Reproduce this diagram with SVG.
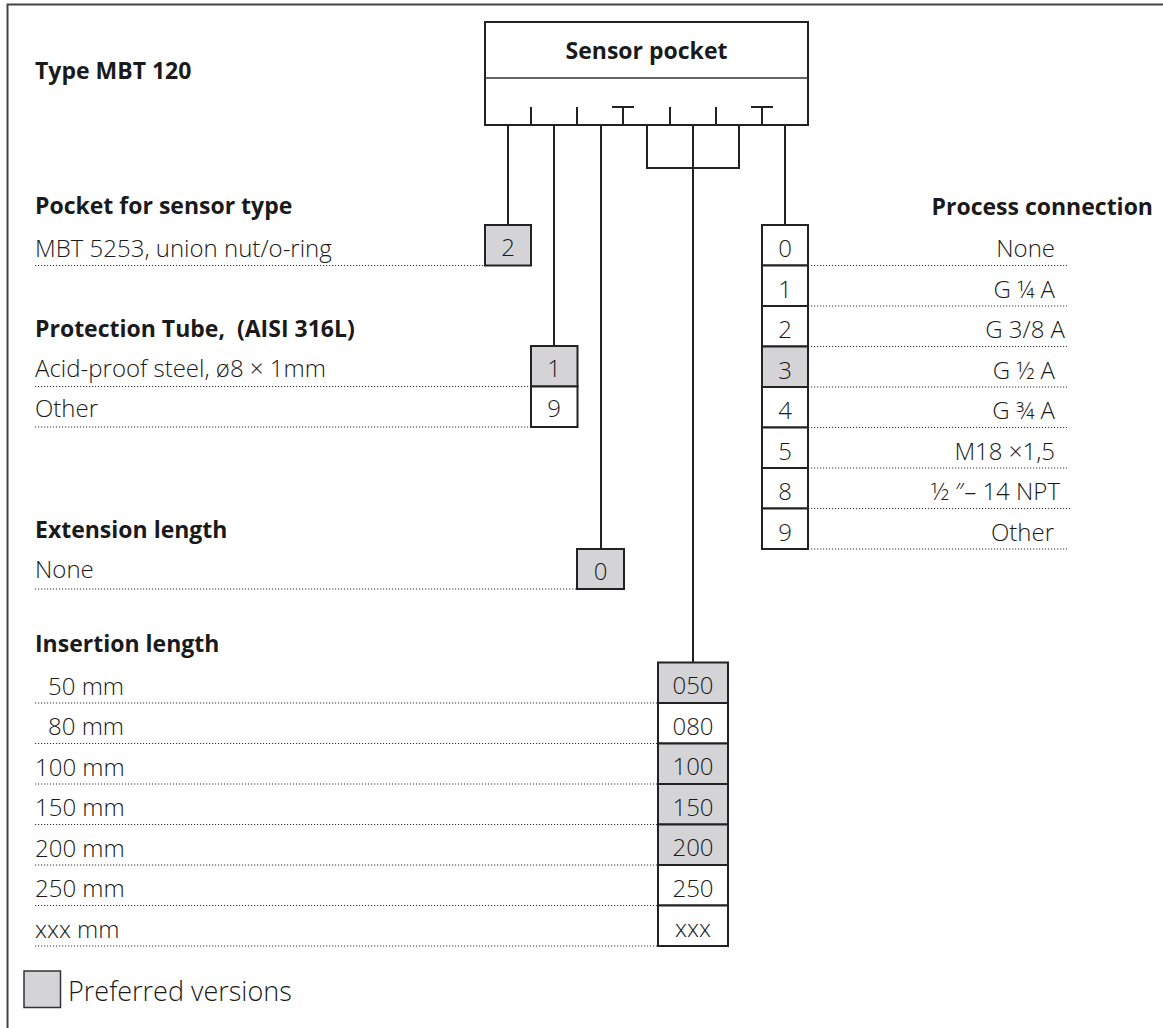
<svg xmlns="http://www.w3.org/2000/svg" width="1163" height="1028" viewBox="0 0 1163 1028">
<style>
text{font-family:"Open Sans","Noto Sans","Liberation Sans",sans-serif;fill:#1a1a1a}
.b{font-weight:700;font-size:23px}
.n{font-weight:300;font-size:24px}
.c{text-anchor:middle}
.r{text-anchor:end}
.box{fill:#fff;stroke:#222;stroke-width:2}
.pref{fill:#d4d4d6;stroke:#222;stroke-width:2}
.sep{stroke:#333;stroke-width:1.5}
.dot{stroke:#333;stroke-width:1;stroke-dasharray:1.2 1.8;fill:none}
.ln{stroke:#222;stroke-width:2;fill:none}
</style>
<rect width="1163" height="1028" fill="#fff"/>
<path d="M7.5 1028V4.5H1163" fill="none" stroke="#444" stroke-width="2"/>

<g id="title"><text x="35" y="79" class="b">Type MBT 120</text></g>

<g id="sensor-pocket">
<rect x="485" y="22" width="323" height="103" class="box"/>
<line x1="485" y1="78" x2="808" y2="78" class="sep"/>
<text x="646.5" y="59" class="b c">Sensor pocket</text>
<path d="M531 107V125M577 107V125M623 107V125M612 107H634M670 107V125M716 107V125M762 107V125M751 107H773" class="ln"/>
</g>

<g id="connectors" class="ln">
<path d="M508 125V225"/>
<path d="M554 125V346"/>
<path d="M601 125V549"/>
<path d="M647 125V168H739V125"/>
<path d="M693 125V662.5"/>
<path d="M785 125V225"/>
</g>

<g id="pocket-sensor-type">
<text x="35" y="214" class="b">Pocket for sensor type</text>
<text x="35" y="257" class="n">MBT 5253, union nut/o-ring</text>
<line x1="35" y1="265.5" x2="485" y2="265.5" class="dot"/>
<rect x="485" y="225" width="46" height="40.5" class="pref"/>
<text x="508" y="256" class="n c">2</text>
</g>

<g id="protection-tube">
<text x="35" y="337" class="b" xml:space="preserve">Protection Tube,  (AISI 316L)</text>
<text x="35" y="377" class="n">Acid-proof steel, ø8 × 1mm</text>
<line x1="35" y1="386.5" x2="531" y2="386.5" class="dot"/>
<text x="35" y="417" class="n">Other</text>
<line x1="35" y1="427" x2="531" y2="427" class="dot"/>
<rect x="531" y="346" width="46.5" height="40.5" class="pref"/>
<rect x="531" y="386.5" width="46.5" height="40.5" class="box"/>
<text x="554" y="377" class="n c">1</text>
<text x="554" y="417" class="n c">9</text>
</g>

<g id="extension-length">
<text x="35" y="538" class="b">Extension length</text>
<text x="35" y="578" class="n">None</text>
<line x1="35" y1="589" x2="577" y2="589" class="dot"/>
<rect x="577" y="549" width="47" height="40" class="pref"/>
<text x="600.5" y="580" class="n c">0</text>
</g>

<g id="process-connection">
<text x="1153" y="215" class="b r">Process connection</text>
<rect x="762" y="225" width="46" height="40.5" class="box"/>
<rect x="762" y="265.5" width="46" height="40.5" class="box"/>
<rect x="762" y="306" width="46" height="40.5" class="box"/>
<rect x="762" y="346.5" width="46" height="40.5" class="pref"/>
<rect x="762" y="387" width="46" height="40.5" class="box"/>
<rect x="762" y="427.5" width="46" height="40.5" class="box"/>
<rect x="762" y="468" width="46" height="40.5" class="box"/>
<rect x="762" y="508.5" width="46" height="40.5" class="box"/>
<text x="785" y="257" class="n c">0</text>
<text x="785" y="297.5" class="n c">1</text>
<text x="785" y="338" class="n c">2</text>
<text x="785" y="378.5" class="n c">3</text>
<text x="785" y="419" class="n c">4</text>
<text x="785" y="459.5" class="n c">5</text>
<text x="785" y="500" class="n c">8</text>
<text x="785" y="540.5" class="n c">9</text>
<text x="1055" y="257" class="n r">None</text>
<text x="1055" y="297.5" class="n r">G ¼ A</text>
<text x="1065" y="338" class="n r">G 3/8 A</text>
<text x="1055" y="378.5" class="n r">G ½ A</text>
<text x="1055" y="419" class="n r">G ¾ A</text>
<text x="1055" y="459.5" class="n r">M18 ×1,5</text>
<text x="1060" y="500" class="n r">½ ″– 14 NPT</text>
<text x="1054" y="540.5" class="n r">Other</text>
<line x1="808" y1="265.5" x2="1067" y2="265.5" class="dot"/>
<line x1="808" y1="306" x2="1067" y2="306" class="dot"/>
<line x1="808" y1="346.5" x2="1067" y2="346.5" class="dot"/>
<line x1="808" y1="387" x2="1067" y2="387" class="dot"/>
<line x1="808" y1="427.5" x2="1067" y2="427.5" class="dot"/>
<line x1="808" y1="468" x2="1067" y2="468" class="dot"/>
<line x1="808" y1="508.5" x2="1072" y2="508.5" class="dot"/>
<line x1="808" y1="549" x2="1067" y2="549" class="dot"/>
</g>

<g id="insertion-length">
<text x="35" y="652" class="b">Insertion length</text>
<rect x="658" y="662.5" width="70" height="40.5" class="pref"/>
<rect x="658" y="703" width="70" height="40.5" class="box"/>
<rect x="658" y="743.5" width="70" height="40.5" class="pref"/>
<rect x="658" y="784" width="70" height="40.5" class="pref"/>
<rect x="658" y="824.5" width="70" height="40.5" class="pref"/>
<rect x="658" y="865" width="70" height="40.5" class="box"/>
<rect x="658" y="905.5" width="70" height="40.5" class="box"/>
<text x="693" y="694" class="n c">050</text>
<text x="693" y="734.5" class="n c">080</text>
<text x="693" y="775" class="n c">100</text>
<text x="693" y="815.5" class="n c">150</text>
<text x="693" y="856" class="n c">200</text>
<text x="693" y="896.5" class="n c">250</text>
<text x="693" y="937" class="n c">xxx</text>
<text x="48" y="694.5" class="n">50 mm</text>
<text x="48" y="735" class="n">80 mm</text>
<text x="35" y="775.5" class="n">100 mm</text>
<text x="35" y="816" class="n">150 mm</text>
<text x="35" y="856.5" class="n">200 mm</text>
<text x="35" y="897" class="n">250 mm</text>
<text x="35" y="937.5" class="n">xxx mm</text>
<line x1="35" y1="703" x2="658" y2="703" class="dot"/>
<line x1="35" y1="743.5" x2="658" y2="743.5" class="dot"/>
<line x1="35" y1="784" x2="658" y2="784" class="dot"/>
<line x1="35" y1="824.5" x2="658" y2="824.5" class="dot"/>
<line x1="35" y1="865" x2="658" y2="865" class="dot"/>
<line x1="35" y1="905.5" x2="658" y2="905.5" class="dot"/>
<line x1="35" y1="946" x2="658" y2="946" class="dot"/>
</g>

<g id="legend">
<rect x="24" y="971" width="36.5" height="36.5" fill="#d4d4d6" stroke="#333" stroke-width="1.5"/>
<text x="68" y="1001" font-size="27" font-weight="300">Preferred versions</text>
</g>
</svg>
